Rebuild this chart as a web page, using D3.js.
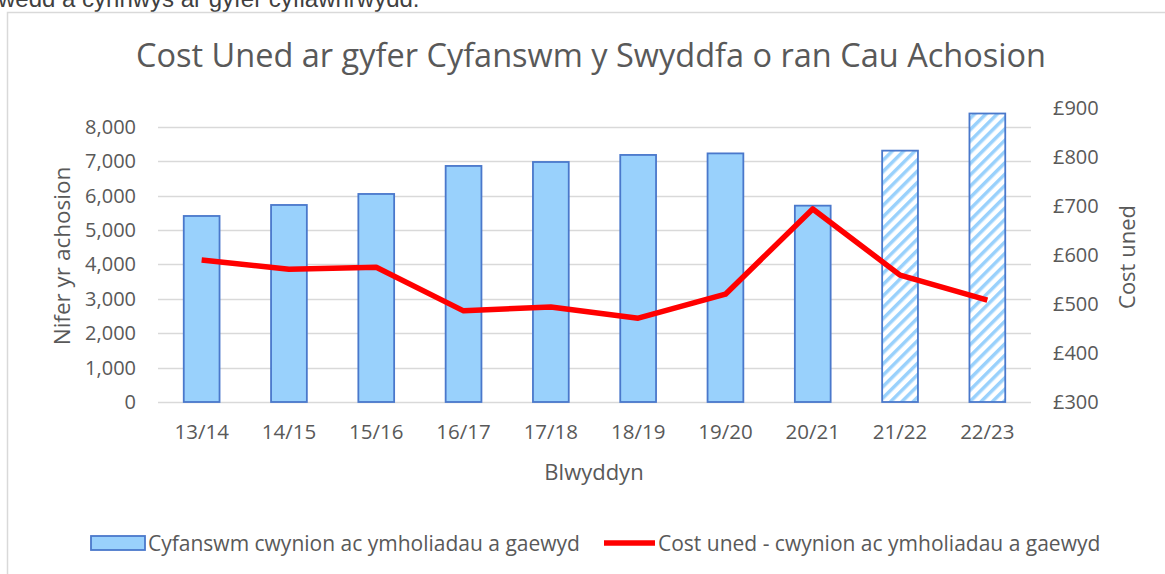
<!DOCTYPE html>
<html>
<head>
<meta charset="utf-8">
<script src="https://cdn.jsdelivr.net/npm/d3@7"></script>
<style>
  body { margin: 0; background: #fff; }
  svg text { font-family: "Open Sans", sans-serif; fill: #595959; }
</style>
</head>
<body>
<div class="chart"></div>
<script>
// DATA
var years = ["13/14", "14/15", "15/16", "16/17", "17/18", "18/19", "19/20", "20/21", "21/22", "22/23"];
var cases = [5410, 5730, 6050, 6865, 6980, 7185, 7230, 5710, 7310, 8390];
var unitCost = [590, 571, 575, 486, 494, 471, 520, 694, 559, 508];
var forecast = [false, false, false, false, false, false, false, false, true, true];
var leftTicks = [0, 1000, 2000, 3000, 4000, 5000, 6000, 7000, 8000];
var rightTicks = [300, 400, 500, 600, 700, 800, 900];

var width = 1165;
var height = 574;
var plot = { left: 158, right: 1031, top: 108, bottom: 402 };

var svg = d3.select(".chart").append("svg")
    .attr("width", width)
    .attr("height", height);

// hatch pattern for the forecast bars
var defs = svg.append("defs");
var pat = defs.append("pattern")
    .attr("id", "hatch")
    .attr("patternUnits", "userSpaceOnUse")
    .attr("width", 8)
    .attr("height", 8)
    .attr("patternTransform", "rotate(45)");
pat.append("rect").attr("width", 8).attr("height", 8).attr("fill", "#fff");
pat.append("rect").attr("width", 3.5).attr("height", 8).attr("fill", "#99d1fc");

// cut off text from the page above the chart
svg.append("text")
    .attr("x", -2)
    .attr("y", 7)
    .style("font-family", "'Liberation Sans', Arial, sans-serif")
    .style("font-size", "24px")
    .style("fill", "#404040")
    .text("wedd a cynnwys ar gyfer cyflawnrwydd.");

// chart frame
svg.append("path")
    .attr("d", "M7.5," + height + "V12.5H" + width)
    .attr("fill", "none")
    .attr("stroke", "#d9d9d9")
    .attr("stroke-width", 1.5);

// SCALES
var x = d3.scaleBand()
    .domain(years)
    .range([plot.left, plot.right])
    .paddingInner(0.59)
    .paddingOuter(0.295);

var yLeft = d3.scaleLinear()
    .domain([0, 8550])
    .range([plot.bottom, plot.top]);

var yRight = d3.scaleLinear()
    .domain([300, 900])
    .range([plot.bottom, plot.top]);

// gridlines
svg.append("g")
    .selectAll("line")
    .data(leftTicks)
    .join("line")
    .attr("x1", plot.left)
    .attr("x2", plot.right)
    .attr("y1", d => Math.round(yLeft(d)) + 0.5)
    .attr("y2", d => Math.round(yLeft(d)) + 0.5)
    .attr("stroke", "#d9d9d9")
    .attr("stroke-width", 1.5);

// BARS
svg.append("g")
    .selectAll("rect")
    .data(years)
    .join("rect")
    .attr("x", d => x(d))
    .attr("y", (d, i) => yLeft(cases[i]))
    .attr("width", x.bandwidth())
    .attr("height", (d, i) => yLeft(0) - yLeft(cases[i]))
    .attr("fill", (d, i) => forecast[i] ? "url(#hatch)" : "#99d1fc")
    .attr("stroke", "#4a78cb")
    .attr("stroke-width", 1.8);

// LINE
var line = d3.line()
    .x(d => x(d.year) + x.bandwidth() / 2)
    .y(d => yRight(d.cost));

svg.append("path")
    .attr("d", line(years.map((d, i) => ({ year: d, cost: unitCost[i] }))))
    .attr("fill", "none")
    .attr("stroke", "#ff0000")
    .attr("stroke-width", 5.5)
    .attr("stroke-linejoin", "round");

// AXES
var xAxis = d3.axisBottom(x).tickSize(0).tickPadding(22);
var gx = svg.append("g")
    .attr("transform", "translate(0," + plot.bottom + ")")
    .call(xAxis);
gx.select(".domain").remove();
gx.selectAll("text").style("font-size", "20.5px").attr("font-family", null).attr("fill", null);

var yAxis = d3.axisLeft(yLeft).tickValues(leftTicks).tickFormat(d3.format(",")).tickSize(0).tickPadding(22);
var gy = svg.append("g")
    .attr("transform", "translate(" + plot.left + ",0)")
    .call(yAxis);
gy.select(".domain").remove();
gy.selectAll("text").style("font-size", "20px").attr("font-family", null).attr("fill", null);

var yAxisR = d3.axisRight(yRight).tickValues(rightTicks).tickFormat(d => "£" + d).tickSize(0).tickPadding(22);
var gyr = svg.append("g")
    .attr("transform", "translate(" + plot.right + ",0)")
    .call(yAxisR);
gyr.select(".domain").remove();
gyr.selectAll("text").style("font-size", "20px").attr("font-family", null).attr("fill", null);

// TITLES
svg.append("text")
    .attr("x", 591)
    .attr("y", 67)
    .attr("text-anchor", "middle")
    .style("font-size", "32.5px")
    .text("Cost Uned ar gyfer Cyfanswm y Swyddfa o ran Cau Achosion");

svg.append("text")
    .attr("transform", "translate(70,256) rotate(-90)")
    .attr("text-anchor", "middle")
    .style("font-size", "22.5px")
    .text("Nifer yr achosion");

svg.append("text")
    .attr("transform", "translate(1135,257) rotate(-90)")
    .attr("text-anchor", "middle")
    .style("font-size", "22px")
    .text("Cost uned");

svg.append("text")
    .attr("x", 594)
    .attr("y", 480)
    .attr("text-anchor", "middle")
    .style("font-size", "22px")
    .text("Blwyddyn");

// LEGEND
var legend = svg.append("g");
legend.append("rect")
    .attr("x", 91)
    .attr("y", 536)
    .attr("width", 54)
    .attr("height", 14)
    .attr("fill", "#99d1fc")
    .attr("stroke", "#4a78cb")
    .attr("stroke-width", 1.8);
legend.append("text")
    .attr("x", 148)
    .attr("y", 551)
    .style("font-size", "21px")
    .text("Cyfanswm cwynion ac ymholiadau a gaewyd");
legend.append("line")
    .attr("x1", 604)
    .attr("x2", 655)
    .attr("y1", 543)
    .attr("y2", 543)
    .attr("stroke", "#ff0000")
    .attr("stroke-width", 5.5);
legend.append("text")
    .attr("x", 658)
    .attr("y", 551)
    .style("font-size", "21px")
    .text("Cost uned - cwynion ac ymholiadau a gaewyd");
</script>
</body>
</html>
